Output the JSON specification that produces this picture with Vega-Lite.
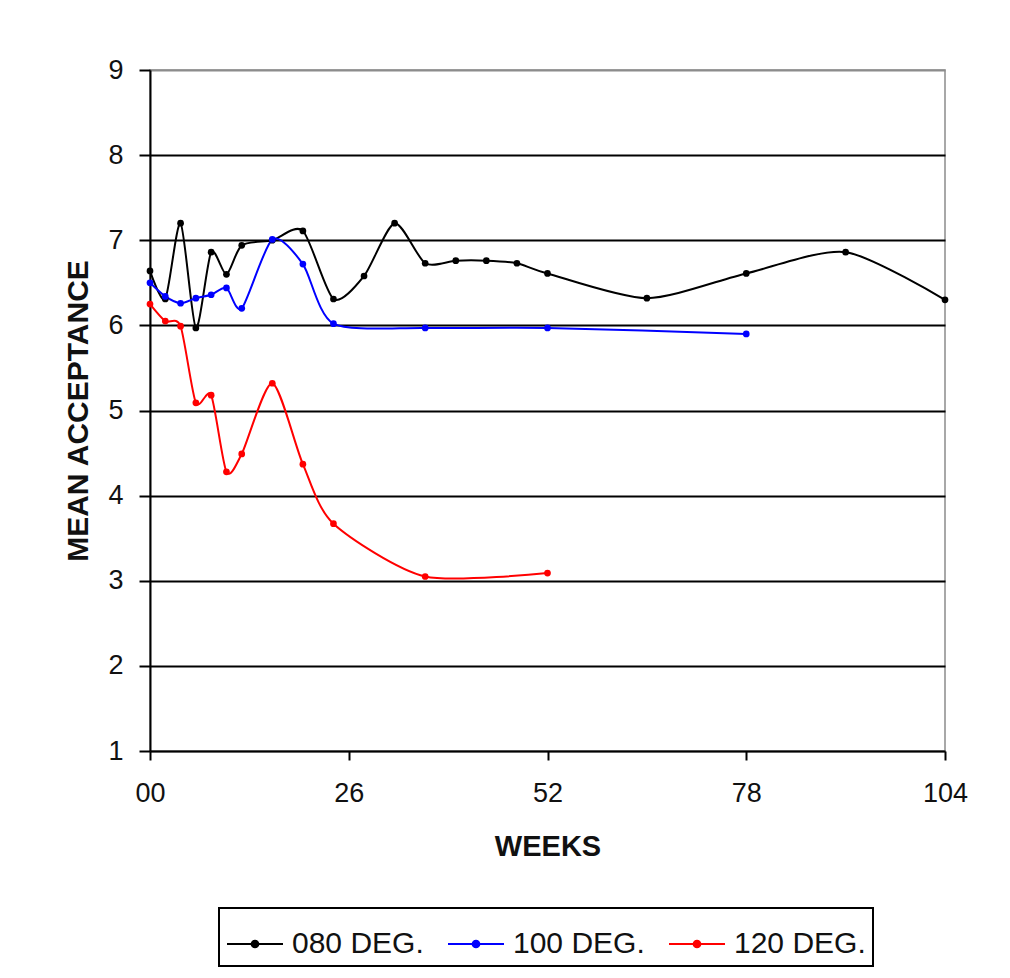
{
  "$schema": "https://vega.github.io/schema/vega-lite/v6.json",
  "autosize": {"type": "none"},
  "padding": {"left": 150, "top": 70, "right": 65, "bottom": 227},
  "width": 795,
  "height": 681,
  "background": "white",
  "config": {
    "font": "Liberation Sans",
    "view": {"stroke": "#8c8c8c", "strokeWidth": 1.5}
  },
  "data": {
    "values": [
      {"series": "080 DEG.", "week": 0, "value": 6.64},
      {"series": "080 DEG.", "week": 2, "value": 6.31},
      {"series": "080 DEG.", "week": 4, "value": 7.2},
      {"series": "080 DEG.", "week": 6, "value": 5.97},
      {"series": "080 DEG.", "week": 8, "value": 6.86},
      {"series": "080 DEG.", "week": 10, "value": 6.6},
      {"series": "080 DEG.", "week": 12, "value": 6.94},
      {"series": "080 DEG.", "week": 16, "value": 7.0},
      {"series": "080 DEG.", "week": 20, "value": 7.11},
      {"series": "080 DEG.", "week": 24, "value": 6.31},
      {"series": "080 DEG.", "week": 28, "value": 6.58},
      {"series": "080 DEG.", "week": 32, "value": 7.2},
      {"series": "080 DEG.", "week": 36, "value": 6.73},
      {"series": "080 DEG.", "week": 40, "value": 6.76},
      {"series": "080 DEG.", "week": 44, "value": 6.76},
      {"series": "080 DEG.", "week": 48, "value": 6.73},
      {"series": "080 DEG.", "week": 52, "value": 6.61},
      {"series": "080 DEG.", "week": 65, "value": 6.32},
      {"series": "080 DEG.", "week": 78, "value": 6.61},
      {"series": "080 DEG.", "week": 91, "value": 6.86},
      {"series": "080 DEG.", "week": 104, "value": 6.3},
      {"series": "100 DEG.", "week": 0, "value": 6.5},
      {"series": "100 DEG.", "week": 2, "value": 6.34},
      {"series": "100 DEG.", "week": 4, "value": 6.26},
      {"series": "100 DEG.", "week": 6, "value": 6.32},
      {"series": "100 DEG.", "week": 8, "value": 6.36},
      {"series": "100 DEG.", "week": 10, "value": 6.44},
      {"series": "100 DEG.", "week": 12, "value": 6.2},
      {"series": "100 DEG.", "week": 16, "value": 7.01},
      {"series": "100 DEG.", "week": 20, "value": 6.72},
      {"series": "100 DEG.", "week": 24, "value": 6.02},
      {"series": "100 DEG.", "week": 36, "value": 5.97},
      {"series": "100 DEG.", "week": 52, "value": 5.97},
      {"series": "100 DEG.", "week": 78, "value": 5.9},
      {"series": "120 DEG.", "week": 0, "value": 6.25},
      {"series": "120 DEG.", "week": 2, "value": 6.05},
      {"series": "120 DEG.", "week": 4, "value": 5.99},
      {"series": "120 DEG.", "week": 6, "value": 5.09},
      {"series": "120 DEG.", "week": 8, "value": 5.18},
      {"series": "120 DEG.", "week": 10, "value": 4.28},
      {"series": "120 DEG.", "week": 12, "value": 4.49},
      {"series": "120 DEG.", "week": 16, "value": 5.32},
      {"series": "120 DEG.", "week": 20, "value": 4.37},
      {"series": "120 DEG.", "week": 24, "value": 3.67},
      {"series": "120 DEG.", "week": 36, "value": 3.05},
      {"series": "120 DEG.", "week": 52, "value": 3.09}
    ]
  },
  "encoding": {
    "x": {
      "field": "week",
      "type": "quantitative",
      "scale": {"domain": [0, 104], "nice": false, "zero": false},
      "axis": {
        "values": [0, 26, 52, 78, 104],
        "labelExpr": "datum.value == 0 ? '00' : datum.label",
        "title": "WEEKS",
        "titleFontSize": 29,
        "titleFontWeight": "bold",
        "titleColor": "#111",
        "titlePadding": 26,
        "labelFontSize": 27,
        "labelColor": "#111",
        "labelPadding": 20,
        "tickSize": 9,
        "tickColor": "black",
        "tickWidth": 2,
        "domainColor": "black",
        "domainWidth": 2,
        "grid": false,
        "labelFlush": false
      }
    },
    "y": {
      "field": "value",
      "type": "quantitative",
      "scale": {"domain": [1, 9], "nice": false, "zero": false},
      "axis": {
        "values": [1, 2, 3, 4, 5, 6, 7, 8, 9],
        "title": "MEAN ACCEPTANCE",
        "titleFontSize": 30,
        "titleFontWeight": "bold",
        "titleColor": "#111",
        "titlePadding": 14,
        "labelFontSize": 27,
        "labelColor": "#111",
        "labelPadding": 16,
        "tickSize": 11,
        "tickColor": "black",
        "tickWidth": 2,
        "domainColor": "black",
        "domainWidth": 2,
        "grid": true,
        "gridColor": {"condition": {"test": "datum.value == 9 || datum.value == 1", "value": "#8c8c8c"}, "value": "black"},
        "gridWidth": 2
      }
    },
    "color": {
      "field": "series",
      "type": "nominal",
      "scale": {
        "domain": ["080 DEG.", "100 DEG.", "120 DEG."],
        "range": ["#000000", "#0000ff", "#ff0000"]
      },
      "legend": {
        "title": null,
        "orient": "none",
        "legendX": 69,
        "legendY": 838,
        "direction": "horizontal",
        "padding": 7,
        "strokeColor": "black",
        "fillColor": "white",
        "labelFontSize": 30,
        "labelColor": "#111",
        "labelOffset": 8,
        "columnPadding": 20,
        "symbolType": "M-1,0H1M-0.12,0A0.12,0.12 0 1 0 0.12,0A0.12,0.12 0 1 0 -0.12,0Z",
        "symbolSize": 3136,
        "symbolStrokeWidth": 2,
        "encode": {
          "legend": {"update": {"strokeWidth": {"value": 2}}},
          "symbols": {"update": {"fill": {"scale": "color", "field": "value"}, "fillOpacity": {"value": 1}}}
        }
      }
    }
  },
  "layer": [
    {
      "mark": {"type": "line", "interpolate": "cardinal", "tension": 0.25, "strokeWidth": 2},
      "encoding": {}
    },
    {
      "mark": {"type": "point", "filled": true, "opacity": 1, "size": 45, "shape": "circle"},
      "encoding": {}
    }
  ]
}
